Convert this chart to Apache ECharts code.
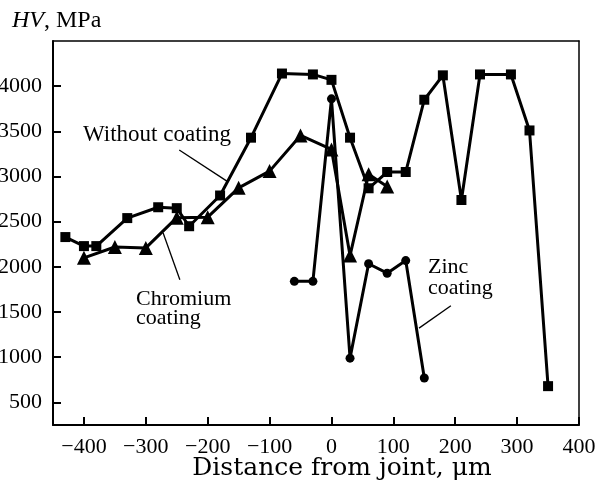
<!DOCTYPE html>
<html>
<head>
<meta charset="utf-8">
<script src="https://cdn.jsdelivr.net/npm/echarts@6/dist/echarts.min.js"></script>
<style>html,body{margin:0;padding:0;background:#fff}#c{width:600px;height:484px}</style>
</head>
<body>
<div id="c"></div>
<script>
// ---- data ----
var withoutX = [-430, -400, -380, -330, -280, -250, -230, -180, -130, -80, -30, 0, 30, 60, 90, 120, 150, 180, 210, 240, 290, 320, 350];
var withoutY = [2330, 2230, 2230, 2540, 2660, 2650, 2450, 2790, 3430, 4140, 4130, 4070, 3430, 2870, 3050, 3050, 3850, 4120, 2740, 4130, 4130, 3510, 680];
var chromX = [-400, -350, -300, -250, -200, -150, -100, -50, 0, 30, 60, 90];
var chromY = [2100, 2220, 2210, 2545, 2550, 2875, 3060, 3455, 3300, 2125, 3025, 2890];
var zincX = [-60, -30, 0, 30, 60, 90, 120, 150];
var zincY = [1840, 1840, 3860, 990, 2035, 1930, 2070, 770];
var xTicks = [-400, -300, -200, -100, 0, 100, 200, 300, 400];
var yTicks = [500, 1000, 1500, 2000, 2500, 3000, 3500, 4000];
// leader lines (data coordinates): [x1, y1, x2, y2]
var leaderWithout = [-246, 3293, -169, 2949];
var leaderChrom = [-272, 2376, -245, 1858];
var leaderZinc = [193, 1569, 141.5, 1322];

function pairs(xs, ys) { return xs.map(function (x, i) { return [x, ys[i]]; }); }
function leader(a) { return [[{ coord: [a[0], a[1]] }, { coord: [a[2], a[3]] }]]; }

var serif = 'Liberation Serif';
var chart = echarts.init(document.getElementById('c'), null, { renderer: 'canvas' });
var baseLine = { color: '#000', width: 3 };
var mlStyle = { symbol: 'none', silent: true, label: { show: false }, lineStyle: { color: '#000', width: 1.3, type: 'solid' }, emphasis: { disabled: true } };

chart.setOption({
  animation: false,
  backgroundColor: '#fff',
  grid: { left: 53, top: 41, right: 21, bottom: 59, containLabel: false, outerBoundsMode: 'none' },
  xAxis: [{
    type: 'value', min: -450, max: 400,
    axisLine: { show: true, onZero: false, lineStyle: { color: '#000', width: 2 } },
    axisTick: { show: true, inside: true, length: 8, customValues: xTicks, lineStyle: { color: '#000', width: 2 } },
    axisLabel: { customValues: xTicks, margin: 11, color: '#000', fontFamily: serif, fontSize: 22,
      formatter: function (v) { return String(v).replace('-', '\u2212'); } },
    splitLine: { show: false }
  }, {
    type: 'value', min: -450, max: 400, position: 'top',
    axisLine: { show: true, onZero: false, lineStyle: { color: '#000', width: 1.5 } },
    axisTick: { show: false }, axisLabel: { show: false }, splitLine: { show: false }
  }],
  yAxis: [{
    type: 'value', min: 250, max: 4500,
    axisLine: { show: true, onZero: false, lineStyle: { color: '#000', width: 2 } },
    axisTick: { show: true, inside: true, length: 8, customValues: yTicks, lineStyle: { color: '#000', width: 2 } },
    axisLabel: { customValues: yTicks, margin: 11, color: '#000', fontFamily: serif, fontSize: 22,
      formatter: function (v) { return String(v); } },
    splitLine: { show: false }
  }, {
    type: 'value', min: 250, max: 4500, position: 'right',
    axisLine: { show: true, onZero: false, lineStyle: { color: '#000', width: 1.5 } },
    axisTick: { show: false }, axisLabel: { show: false }, splitLine: { show: false }
  }],
  series: [{
    name: 'Without coating', type: 'line', data: pairs(withoutX, withoutY),
    symbol: 'rect', symbolSize: 10, showAllSymbol: true,
    lineStyle: baseLine, itemStyle: { color: '#000' },
    markLine: Object.assign({ data: leader(leaderWithout) }, mlStyle)
  }, {
    name: 'Chromium coating', type: 'line', data: pairs(chromX, chromY),
    symbol: 'triangle', symbolSize: 14, showAllSymbol: true,
    lineStyle: baseLine, itemStyle: { color: '#000' },
    markLine: Object.assign({ data: leader(leaderChrom) }, mlStyle)
  }, {
    name: 'Zinc coating', type: 'line', data: pairs(zincX, zincY),
    symbol: 'circle', symbolSize: 9, showAllSymbol: true,
    lineStyle: baseLine, itemStyle: { color: '#000' },
    markLine: Object.assign({ data: leader(leaderZinc) }, mlStyle)
  }],
  graphic: [
    { type: 'text', x: 12, y: 21, style: {
      text: '{i|HV}, MPa', fill: '#000', font: '24px "Liberation Serif"', verticalAlign: 'middle',
      rich: { i: { fontStyle: 'italic', fontFamily: serif, fontSize: 24, fill: '#000' } } } },
    { type: 'text', x: 83, y: 135, style: { text: 'Without coating', fill: '#000', font: '23px "Liberation Serif"', verticalAlign: 'middle' } },
    { type: 'text', x: 136, y: 299, style: { text: 'Chromium', fill: '#000', font: '22px "Liberation Serif"', verticalAlign: 'middle' } },
    { type: 'text', x: 136, y: 318, style: { text: 'coating', fill: '#000', font: '22px "Liberation Serif"', verticalAlign: 'middle' } },
    { type: 'text', x: 428, y: 267, style: { text: 'Zinc', fill: '#000', font: '22px "Liberation Serif"', verticalAlign: 'middle' } },
    { type: 'text', x: 428, y: 288, style: { text: 'coating', fill: '#000', font: '22px "Liberation Serif"', verticalAlign: 'middle' } },
    { type: 'text', x: 342, y: 468, style: { text: 'Distance from joint, \u03bcm', fill: '#000', font: '25px "DejaVu Serif"', align: 'center', verticalAlign: 'middle' } }
  ]
});
</script>
</body>
</html>
